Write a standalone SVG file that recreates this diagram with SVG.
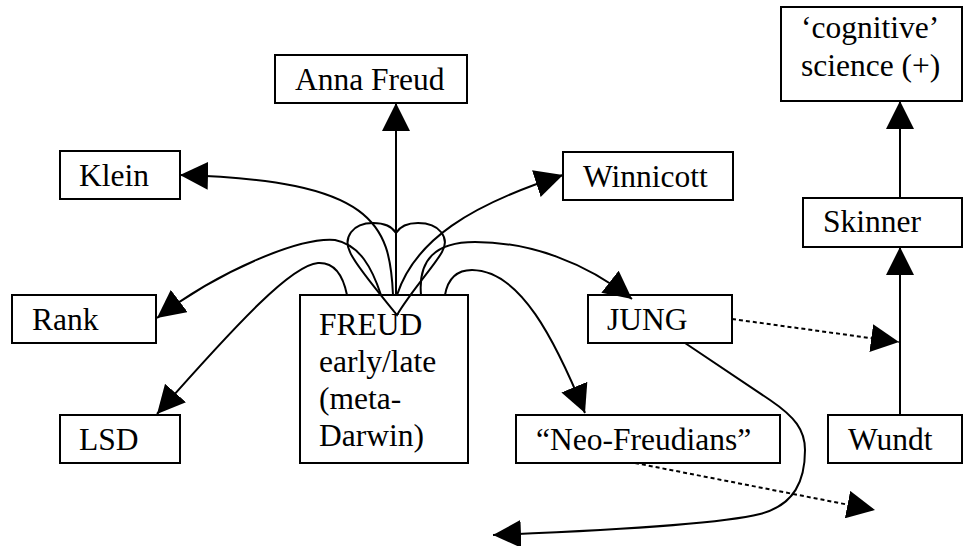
<svg xmlns="http://www.w3.org/2000/svg" width="964" height="546" viewBox="0 0 964 546">
<style>
.box{fill:#fff;stroke:#000;stroke-width:2}
.lbl{font-family:'Liberation Serif','Times New Roman','DejaVu Serif','Noto Serif',Times,serif;font-size:31.5px;fill:#000}
.con{fill:none;stroke:#000;stroke-width:2}
.dash{fill:none;stroke:#000;stroke-width:2;stroke-dasharray:4 3}
</style>
<defs>
<marker id="ah" markerUnits="userSpaceOnUse" markerWidth="28" markerHeight="28" viewBox="0 0 28 28" refX="28" refY="14" orient="auto"><path d="M0,0 L28,14 L0,28 z" fill="#000"/></marker>
</defs>
<rect width="964" height="546" fill="#fff"/>
<g id="nodes" font-family="Liberation Serif, serif">
<g id="anna"><rect class="box" x="275" y="55" width="192" height="48"/><text class="lbl" x="295" y="90">Anna Freud</text></g>
<g id="klein"><rect class="box" x="60" y="151" width="120" height="48"/><text class="lbl" x="79" y="186">Klein</text></g>
<g id="winnicott"><rect class="box" x="563" y="152" width="170" height="48"/><text class="lbl" x="583" y="187">Winnicott</text></g>
<g id="cognitive"><rect class="box" x="781" y="7" width="181" height="94"/><text class="lbl" x="801" y="38">‘cognitive’</text><text class="lbl" x="801" y="76">science (+)</text></g>
<g id="skinner"><rect class="box" x="803" y="198" width="159" height="49"/><text class="lbl" x="823" y="232">Skinner</text></g>
<g id="rank"><rect class="box" x="12" y="295" width="144" height="48"/><text class="lbl" x="32" y="330">Rank</text></g>
<g id="freud"><rect class="box" x="300" y="295" width="168" height="168"/><text class="lbl" x="319" y="335">FREUD</text><text class="lbl" x="319" y="372">early/late</text><text class="lbl" x="319" y="409">(meta-</text><text class="lbl" x="319" y="446">Darwin)</text></g>
<g id="jung"><rect class="box" x="588" y="295" width="144" height="48"/><text class="lbl" x="607" y="330">JUNG</text></g>
<g id="lsd"><rect class="box" x="60" y="415" width="120" height="48"/><text class="lbl" x="79" y="450">LSD</text></g>
<g id="neo"><rect class="box" x="516" y="415" width="264" height="48"/><text class="lbl" x="536" y="450">“Neo-Freudians”</text></g>
<g id="wundt"><rect class="box" x="828" y="415" width="134" height="48"/><text class="lbl" x="848" y="450">Wundt</text></g>
</g>
<g id="connectors">
<path class="con" d="M397,315 C385,300 355,265 350,252 C343,238 352,223 373,223 C386,223 393,228 396,233 C399,228 406,223 418,223 C440,223 450,238 442,252 C435,265 412,290 397,315 Z"/>
<path class="con" d="M396,295 L396,103" marker-end="url(#ah)"/>
<path class="con" d="M393,295 C390,225 375,180 180,175" marker-end="url(#ah)"/>
<path class="con" d="M397,295 C415,240 470,205 563,175" marker-end="url(#ah)"/>
<path class="con" d="M381,295 C372,268 360,245 335,240 C300,237 220,270 157,318" marker-end="url(#ah)"/>
<path class="con" d="M347,295 C343,275 335,262 318,263 C292,265 240,320 157,414" marker-end="url(#ah)"/>
<path class="con" d="M421,295 C418,260 435,242 475,242 C530,242 585,262 632,299" marker-end="url(#ah)"/>
<path class="con" d="M445,295 C448,278 458,270 472,270 C520,270 555,340 585,413" marker-end="url(#ah)"/>
<path class="con" d="M685,343 L770,400 C795,417 805,430 805,450 C805,480 795,505 760,514 C720,524 620,530 493,535" marker-end="url(#ah)"/>
<path class="dash" d="M732,319 L899,342" marker-end="url(#ah)"/>
<path class="dash" d="M635,463 L875,510" marker-end="url(#ah)"/>
<path class="con" d="M900,415 L900,247" marker-end="url(#ah)"/>
<path class="con" d="M900,198 L900,101" marker-end="url(#ah)"/>
</g>
</svg>
